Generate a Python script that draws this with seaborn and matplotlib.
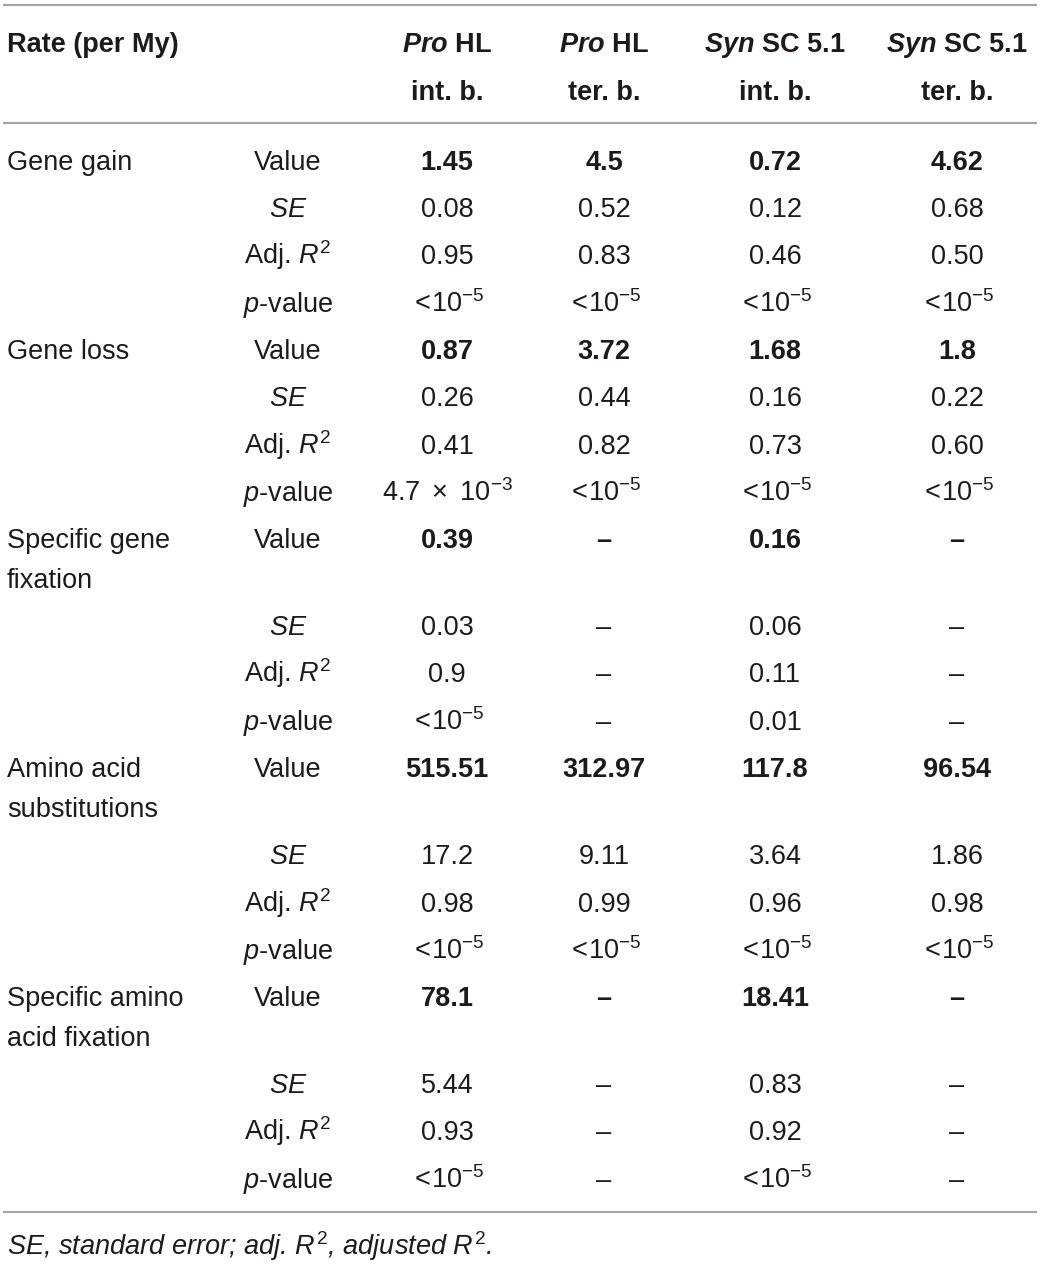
import matplotlib
matplotlib.use("Agg")
import matplotlib.pyplot as plt
import seaborn as sns

sns.set_theme(style="white")
plt.rcParams['font.family'] = ['Liberation Sans', 'DejaVu Sans']
plt.rcParams['mathtext.fontset'] = 'custom'
plt.rcParams['mathtext.rm'] = 'Liberation Sans'
plt.rcParams['mathtext.it'] = 'Liberation Sans:italic'
plt.rcParams['mathtext.bf'] = 'Liberation Sans:bold'
plt.rcParams['mathtext.bfit'] = 'Liberation Sans:bold:italic'

# --- data ---
col_top = [r"$\mathbfit{Pro}$ HL", r"$\mathbfit{Pro}$ HL",
           r"$\mathbfit{Syn}$ SC 5.1", r"$\mathbfit{Syn}$ SC 5.1"]
col_bottom = ["int. b.", "ter. b.", "int. b.", "ter. b."]
rate_groups = ["Gene gain", "Gene loss", "Specific gene\nfixation",
               "Amino acid\nsubstitutions", "Specific amino\nacid fixation"]
stat_labels = ["Value", r"$SE$", r"Adj. $R^2$", r"$p$-value"]

LT = r"$<\!10^{-5}$"
D = "–"
pro_int = ["1.45", "0.08", "0.95", LT,
           "0.87", "0.26", "0.41", r"$4.7\ \times\ 10^{-3}$",
           "0.39", "0.03", "0.9", LT,
           "515.51", "17.2", "0.98", LT,
           "78.1", "5.44", "0.93", LT]
pro_ter = ["4.5", "0.52", "0.83", LT,
           "3.72", "0.44", "0.82", LT,
           D, D, D, D,
           "312.97", "9.11", "0.99", LT,
           D, D, D, D]
syn_int = ["0.72", "0.12", "0.46", LT,
           "1.68", "0.16", "0.73", LT,
           "0.16", "0.06", "0.11", "0.01",
           "117.8", "3.64", "0.96", LT,
           "18.41", "0.83", "0.92", LT]
syn_ter = ["4.62", "0.68", "0.50", LT,
           "1.8", "0.22", "0.60", LT,
           D, D, D, D,
           "96.54", "1.86", "0.98", LT,
           D, D, D, D]
columns = [pro_int, pro_ter, syn_int, syn_ter]
footnote = r"$SE$, standard error; adj. $R^2$, adjusted $R^2$."

# --- layout ---
ink = "#1e1a1b"
rule = "#a6a6a6"
fs = 19.5
col_x = [447, 604, 775, 957]
stat_x = 288
step = 47.25
base_off = 10

fig = plt.figure(figsize=(10.4, 12.67), dpi=100)
ax = fig.add_axes([0, 0, 1, 1])
ax.set_xlim(0, 1040)
ax.set_ylim(1267, 0)
ax.axis("off")

for yl in (5, 123, 1212):
    ax.plot([3, 1037], [yl, yl], color=rule, lw=1.6, solid_capstyle="butt")

ax.text(7, 42 + base_off, "Rate (per My)", fontsize=fs, fontweight="bold",
        color=ink, va="baseline", ha="left")
for x, top, bot in zip(col_x, col_top, col_bottom):
    ax.text(x, 42 + base_off, top, fontsize=fs, fontweight="bold",
            color=ink, va="baseline", ha="center")
    ax.text(x, 90 + base_off, bot, fontsize=fs, fontweight="bold",
            color=ink, va="baseline", ha="center")

y = 160
k = 0
for grp in rate_groups:
    lines = grp.split("\n")
    for li, line in enumerate(lines):
        ax.text(7, y + li * 40 + base_off, line, fontsize=fs, color=ink,
                va="baseline", ha="left")
    for si, st in enumerate(stat_labels):
        ax.text(stat_x, y + base_off, st, fontsize=fs, color=ink,
                va="baseline", ha="center")
        for x, col in zip(col_x, columns):
            ax.text(x, y + base_off, col[k], fontsize=fs, color=ink,
                    va="baseline", ha="center",
                    fontweight="bold" if si == 0 else "normal")
        k += 1
        y += step
        if si == 0 and len(lines) > 1:
            y += 40

ax.text(7, 1245 + base_off, footnote, fontsize=fs, color=ink,
        fontstyle="italic", va="baseline", ha="left")

fig.savefig("out.png", dpi=100)
